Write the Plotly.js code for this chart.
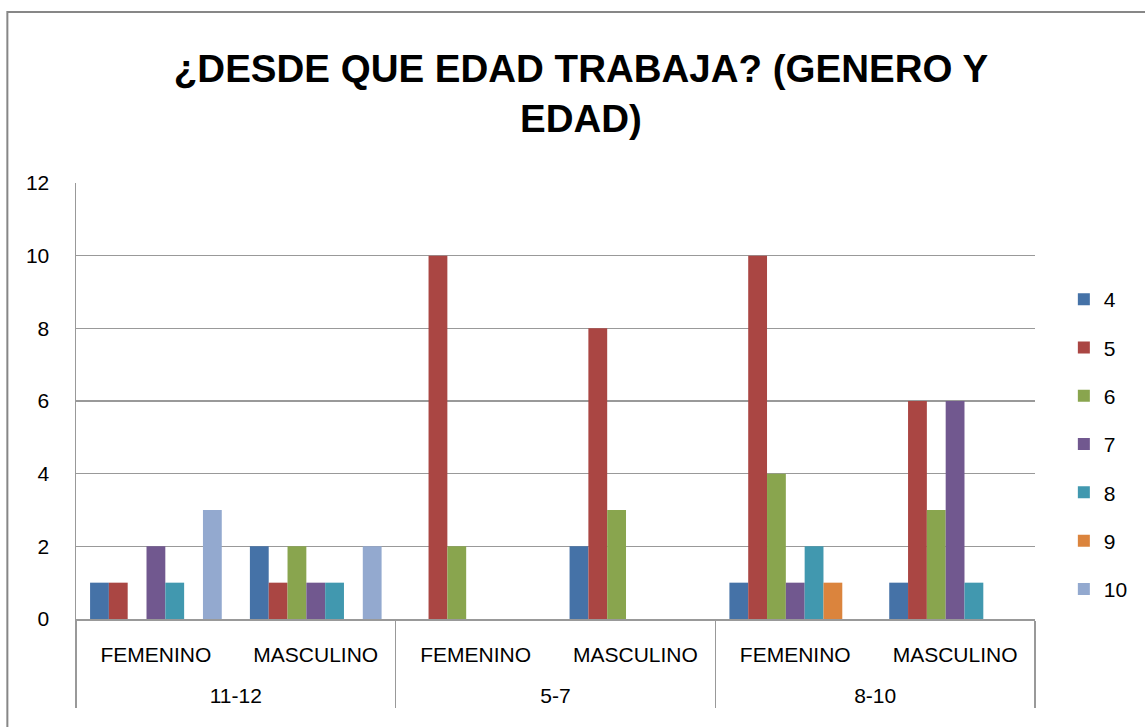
<!DOCTYPE html>
<html>
<head>
<meta charset="utf-8">
<script src="https://cdn.plot.ly/plotly-3.0.1.min.js"></script>
<style>html,body{margin:0;padding:0;background:#fff;}#chart{width:1145px;height:727px;}</style>
</head>
<body>
<div id="chart"></div>
<script>
const ageGroups = ['11-12','11-12','5-7','5-7','8-10','8-10'];
const genders = ['FEMENINO','MASCULINO','FEMENINO','MASCULINO','FEMENINO','MASCULINO'];
const seriesNames = ['4','5','6','7','8','9','10'];
const v4  = [1, 2, 0, 2, 1, 1];
const v5  = [1, 1, 10, 8, 10, 6];
const v6  = [0, 2, 2, 3, 4, 3];
const v7  = [2, 1, 0, 0, 1, 6];
const v8  = [1, 1, 0, 0, 2, 1];
const v9  = [0, 0, 0, 0, 1, 0];
const v10 = [3, 2, 0, 0, 0, 0];
const seriesValues = [v4, v5, v6, v7, v8, v9, v10];
const colors = ['#4572A7','#AA4643','#89A54E','#71588F','#4198AF','#DB843D','#93A9CF'];

const FONT = 'Liberation Sans, Arial, sans-serif';
// invisible spacing line under the inner labels, so the outer level sits lower as in the reference
const genderLabels = genders.map(g => g + '<br><span style="font-size:42px">&nbsp;</span>');

const traces = seriesNames.map((n, i) => ({
  type: 'bar',
  name: n,
  x: [ageGroups, genderLabels],
  y: seriesValues[i],
  marker: {color: colors[i], line: {width: 0}},
  legendgroup: 'g' + i,
  hoverinfo: 'y'
}));

const L = 76, R = 1040, T = 183, B = 619;
const px = x => (x - L) / (R - L);
const py = y => (B - y) / (B - T);

const layout = {
  width: 1145, height: 727,
  margin: {l: L, r: 1145 - R, t: T, b: 727 - B, pad: 0},
  paper_bgcolor: '#fff', plot_bgcolor: '#fff',
  font: {family: FONT, size: 21, color: '#000'},
  title: {
    text: '¿DESDE QUE EDAD TRABAJA? (GENERO Y<br>EDAD)',
    font: {family: FONT, size: 38.5, color: '#000', weight: 'bold'},
    x: 581 / 1145, xanchor: 'center', xref: 'container',
    y: 1 - 82 / 727, yanchor: 'top', yref: 'container'
  },
  barmode: 'group',
  bargap: 0.176,
  bargroupgap: 0,
  showlegend: true,
  legend: {
    x: px(1069), xanchor: 'left', y: py(279), yanchor: 'top',
    font: {family: FONT, size: 21, color: '#000'},
    traceorder: 'grouped', tracegroupgap: 18,
    bgcolor: 'rgba(0,0,0,0)'
  },
  xaxis: {
    type: 'multicategory',
    showline: true, linecolor: '#999', linewidth: 1.5,
    showgrid: false, ticks: '',
    ticklabelstandoff: 16,
    showdividers: true, dividercolor: '#999', dividerwidth: 1.5,
    tickfont: {family: FONT, size: 21, color: '#000'}
  },
  yaxis: {
    range: [0, 12], dtick: 2, tick0: 0,
    showline: true, linecolor: '#999', linewidth: 1.5,
    showgrid: true, gridcolor: '#999', gridwidth: 1.5,
    zeroline: false, ticks: '',
    ticklabelstandoff: 21,
    tickfont: {family: FONT, size: 21, color: '#000'}
  },
  shapes: [
    {type: 'path', xref: 'paper', yref: 'paper',
     path: `M ${px(7)} ${py(740)} L ${px(7)} ${py(12)} L ${px(1160)} ${py(12)}`,
     line: {color: '#878787', width: 2}}
  ]
};

Plotly.newPlot('chart', traces, layout, {displayModeBar: false, staticPlot: true});
</script>
</body>
</html>
